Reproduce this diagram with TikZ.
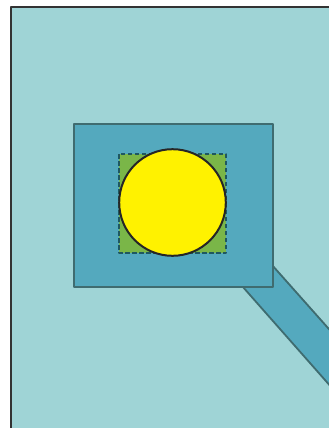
\documentclass[tikz,border=0pt]{standalone}
\usepackage{xcolor}
\usepackage{tikz}
\definecolor{poolwater}{HTML}{9FD4D6}
\definecolor{deckblue}{HTML}{54A9BE}
\definecolor{deckedge}{HTML}{3F6C70}
\definecolor{lawngreen}{HTML}{7AB648}
\definecolor{dashteal}{HTML}{1F5860}
\definecolor{sunyellow}{HTML}{FFF200}
\begin{document}
\begin{tikzpicture}[x=1pt,y=-1pt,line join=round,
  deck/.style={fill=deckblue,draw=deckedge,line width=1.8pt},
  plot/.style={fill=lawngreen,draw=dashteal,line width=1.6pt,dash pattern=on 4.5pt off 2.5pt}]
\useasboundingbox (0,0) rectangle (329,428);
\clip (0,0) rectangle (329,428);
\filldraw[fill=poolwater,draw=black!80,line width=2.6pt] (11,7) rectangle (345,445);
\filldraw[deck] (240,229) -- (400,409) -- (400,465) -- (220,261) -- cycle;
\filldraw[deck] (74,124) rectangle (273,287);
\filldraw[plot] (119,154) rectangle (226,253);
\filldraw[fill=sunyellow,draw=black!85,line width=2pt] (172.5,202.5) circle (53.3);
\end{tikzpicture}
\end{document}
